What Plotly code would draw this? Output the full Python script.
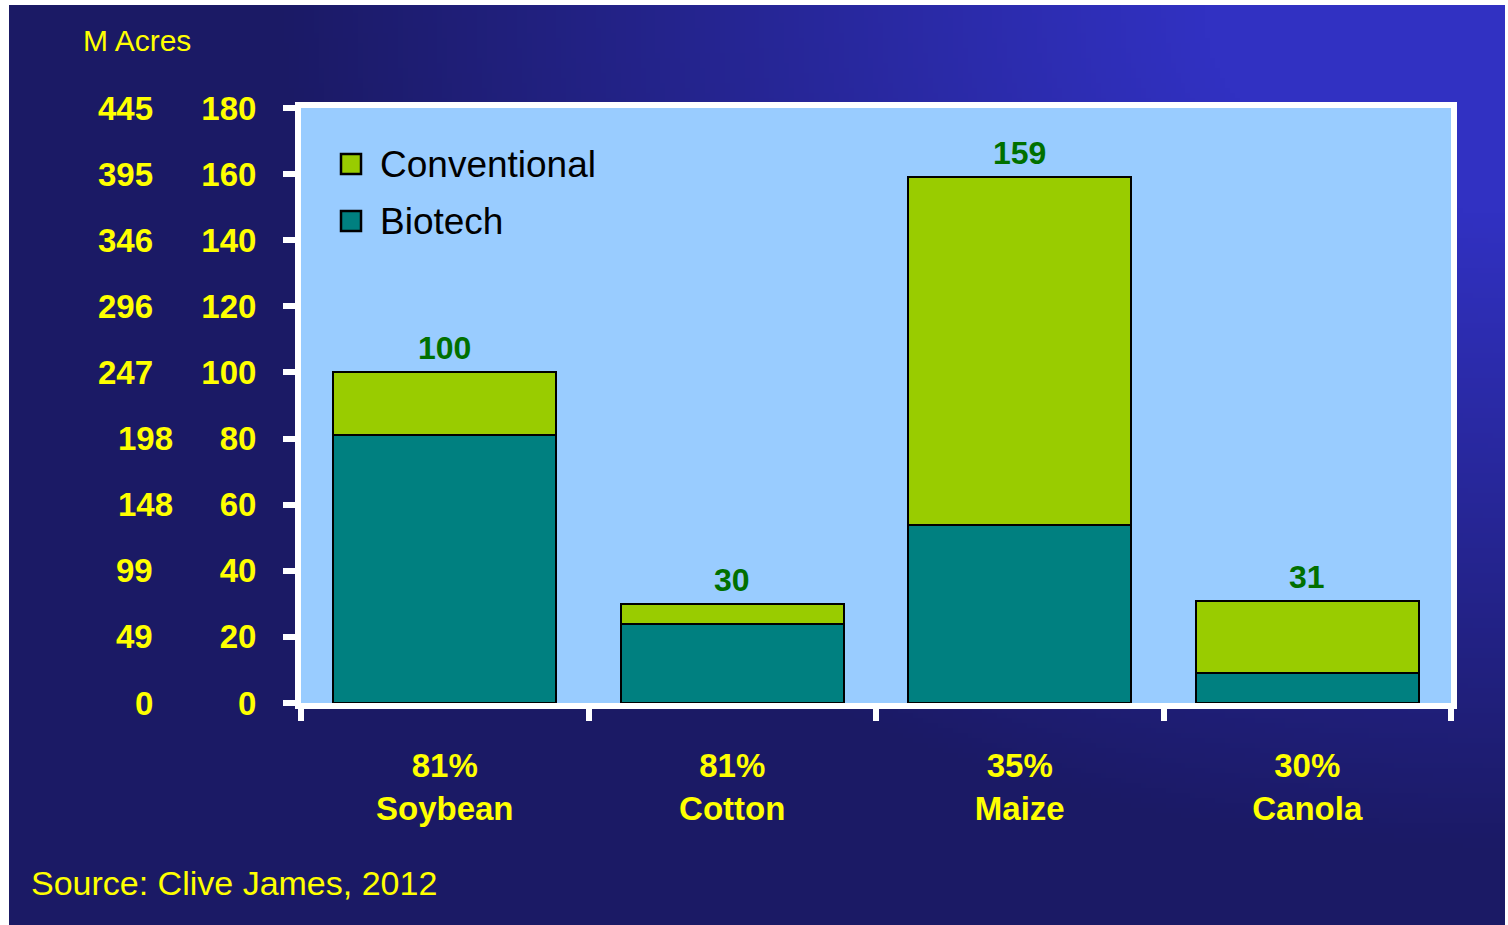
import base64
import struct
import zlib

import numpy as np
import plotly.graph_objects as go

# ---- data (million hectares, 2012) ----
crops = ["Soybean", "Cotton", "Maize", "Canola"]
adoption_pct = ["81%", "81%", "35%", "30%"]
totals = [100, 30, 159, 31]
biotech = [81, 24, 54, 9]
conventional = [t - b for t, b in zip(totals, biotech)]

ha_ticks = [0, 20, 40, 60, 80, 100, 120, 140, 160, 180]
acre_labels = ["0", "49", "99", "148", "198", "247", "296", "346", "395", "445"]

FONT = "Liberation Sans, Arial, sans-serif"
YELLOW = "#ffff00"
LABEL_GREEN = "#007000"
CONV_COLOR = "#99cc00"
BIO_COLOR = "#008080"
PANEL_BLUE = "#99ccff"

W, H = 1508, 925
L, R, T, B = 301, 57, 108, 222
PW, PH = W - L - R, H - T - B


def px_x(x):
    return (x - L) / PW


def px_y(y):
    return (H - B - y) / PH


def gradient_png(w, h, full_w, full_h):
    """Navy background brightening toward the top-right corner."""
    xs = (np.arange(w) + 0.5) / w * full_w
    ys = (np.arange(h) + 0.5) / h * full_h
    gx, gy = np.meshgrid(xs, ys)
    e = np.sqrt(((full_w - gx) / 1.45) ** 2 + gy ** 2)
    t = np.clip((850 - e) / 640, 0, 1)
    dark = np.array([27, 26, 101], dtype=float)
    bright = np.array([49, 49, 194], dtype=float)
    img = (dark + (bright - dark) * t[..., None]).astype(np.uint8)
    raw = b"".join(b"\x00" + img[r].tobytes() for r in range(h))

    def chunk(tag, data):
        c = struct.pack(">I", len(data)) + tag + data
        return c + struct.pack(">I", zlib.crc32(tag + data) & 0xFFFFFFFF)

    png = b"\x89PNG\r\n\x1a\n"
    png += chunk(b"IHDR", struct.pack(">IIBBBBB", w, h, 8, 2, 0, 0, 0))
    png += chunk(b"IDAT", zlib.compress(raw, 9))
    png += chunk(b"IEND", b"")
    return "data:image/png;base64," + base64.b64encode(png).decode()


fig = go.Figure()

fig.add_trace(go.Bar(
    x=crops, y=biotech, name="Biotech",
    marker=dict(color=BIO_COLOR, line=dict(color="black", width=2)),
    showlegend=False, hoverinfo="x+y+name",
))
fig.add_trace(go.Bar(
    x=crops, y=conventional, name="Conventional",
    marker=dict(color=CONV_COLOR, line=dict(color="black", width=2)),
    showlegend=False, hoverinfo="x+y+name",
))

# totals above each stack
for c, tot in zip(crops, totals):
    fig.add_annotation(
        x=c, y=tot, xref="x", yref="y", text=str(tot), showarrow=False,
        yanchor="bottom", yshift=4,
        font=dict(family=FONT, size=32, color=LABEL_GREEN, weight="bold"),
    )

# acres scale to the left of the hectare axis
for v, lab in zip(ha_ticks, acre_labels):
    right_edge = 175 if lab in ("198", "148") else 155
    fig.add_annotation(
        x=px_x(right_edge), y=v, xref="paper", yref="y", text=lab,
        showarrow=False, xanchor="right", yanchor="middle",
        font=dict(family=FONT, size=33, color=YELLOW, weight="bold"),
    )

fig.add_annotation(
    x=px_x(137), y=px_y(41), xref="paper", yref="paper", text="M Acres",
    showarrow=False, xanchor="center", yanchor="middle",
    font=dict(family=FONT, size=30, color=YELLOW),
)
fig.add_annotation(
    x=px_x(29), y=px_y(883), xref="paper", yref="paper",
    text="Source: Clive James, 2012", showarrow=False,
    xanchor="left", yanchor="middle",
    font=dict(family=FONT, size=34, color=YELLOW),
)

# legend
legend_items = [("Conventional", CONV_COLOR, 164), ("Biotech", BIO_COLOR, 221)]
shapes = [dict(type="rect", xref="paper", yref="paper", x0=0, x1=1, y0=0, y1=1,
               fillcolor=PANEL_BLUE, line=dict(width=0), layer="below")]
for name, color, cy in legend_items:
    shapes.append(dict(
        type="rect", xref="paper", yref="paper",
        x0=px_x(341), x1=px_x(361), y0=px_y(cy + 10), y1=px_y(cy - 10),
        fillcolor=color, line=dict(color="black", width=2.5),
    ))
    fig.add_annotation(
        x=px_x(378), y=px_y(cy), xref="paper", yref="paper", text=name,
        showarrow=False, xanchor="left", yanchor="middle",
        font=dict(family=FONT, size=37, color="black"),
    )

bg_x0, bg_x1, bg_y0, bg_y1 = 9, 1505, 5, 925
fig.add_layout_image(dict(
    source=gradient_png(302, 184, bg_x1 - bg_x0, bg_y1 - bg_y0),
    xref="paper", yref="paper",
    x=px_x(bg_x0), y=px_y(bg_y0),
    sizex=(bg_x1 - bg_x0) / PW, sizey=(bg_y1 - bg_y0) / PH,
    xanchor="left", yanchor="top", sizing="stretch", layer="below",
))

fig.update_layout(
    width=W, height=H,
    margin=dict(l=L, r=R, t=T, b=B),
    barmode="stack", bargap=0.224,
    paper_bgcolor="white", plot_bgcolor="rgba(0,0,0,0)",
    shapes=shapes,
    xaxis=dict(
        type="category",
        tickmode="array", tickvals=crops,
        ticktext=[f"{p}<br>{c}" for p, c in zip(adoption_pct, crops)],
        tickson="boundaries",
        ticks="outside", ticklen=12, tickwidth=6, tickcolor="white",
        showline=True, linecolor="white", linewidth=6, mirror=True,
        showgrid=False, zeroline=False,
        tickfont=dict(family=FONT, size=33, color=YELLOW, weight="bold"),
        ticklabelstandoff=28,
        fixedrange=True,
    ),
    yaxis=dict(
        range=[0, 180],
        tickmode="array", tickvals=ha_ticks,
        ticktext=[str(v) for v in ha_ticks],
        ticks="outside", ticklen=12, tickwidth=6, tickcolor="white",
        showline=True, linecolor="white", linewidth=6, mirror=True,
        showgrid=False, zeroline=False,
        tickfont=dict(family=FONT, size=33, color=YELLOW, weight="bold"),
        ticklabelstandoff=20,
        fixedrange=True,
    ),
)

fig.write_html("out.html")
